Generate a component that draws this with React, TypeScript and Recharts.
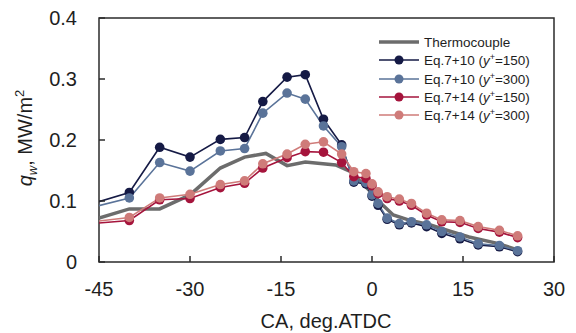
import { LineChart, Line, XAxis, YAxis, Legend, ReferenceArea } from "recharts";

// crank angle (deg ATDC) of the model evaluation points
const caDeg = [-46, -40, -35, -30, -25, -21, -18, -14, -11, -8, -5, -3, -1, 0, 1, 2.5, 4.5, 6.5, 9, 11.5, 14.5, 17.5, 21, 24];

// heat flux q_w (MW/m2) from each wall-function combination
const eq10y150 = [0.096, 0.114, 0.188, 0.172, 0.201, 0.204, 0.263, 0.303, 0.307, 0.234, 0.192, 0.131, 0.128, 0.108, 0.093, 0.07, 0.061, 0.064, 0.058, 0.047, 0.038, 0.028, 0.025, 0.017];
const eq10y300 = [0.09, 0.105, 0.163, 0.149, 0.182, 0.186, 0.244, 0.277, 0.267, 0.223, 0.189, 0.133, 0.13, 0.11, 0.096, 0.072, 0.063, 0.066, 0.061, 0.05, 0.041, 0.03, 0.027, 0.0185];
const eq14y150 = [0.063, 0.068, 0.102, 0.104, 0.122, 0.129, 0.154, 0.171, 0.181, 0.18, 0.163, 0.14, 0.137, 0.125, 0.112, 0.104, 0.1, 0.093, 0.077, 0.066, 0.065, 0.055, 0.049, 0.04];
const eq14y300 = [0.066, 0.073, 0.105, 0.111, 0.127, 0.133, 0.161, 0.177, 0.193, 0.197, 0.177, 0.148, 0.145, 0.128, 0.115, 0.107, 0.103, 0.096, 0.08, 0.069, 0.068, 0.058, 0.052, 0.043];

// measured flux
const thermoCa = [-45, -40, -35, -30, -25, -21, -17.5, -14, -11, -6, -3.5, -0.5, 1.5, 3.5, 6, 9.5, 13, 16, 20.5, 24];
const thermoQ = [0.072, 0.087, 0.087, 0.11, 0.154, 0.172, 0.178, 0.158, 0.164, 0.159, 0.148, 0.118, 0.096, 0.077, 0.069, 0.061, 0.05, 0.041, 0.031, 0.02];

const xTicks = [-45, -30, -15, 0, 15, 30];
const yTicks = [0, 0.1, 0.2, 0.3, 0.4];

const FONT = '"Liberation Sans", Arial, sans-serif';
const AXIS = "#2b2b2b";
const TEXT = "#1e1e1e";

const toPoints = (xs: number[], ys: number[]) => xs.map((x, i) => ({ x, q: ys[i] }));

const series = [
  { key: "e10a", eq: "Eq.7+10", yp: "150", color: "#151a45", values: eq10y150 },
  { key: "e10b", eq: "Eq.7+10", yp: "300", color: "#5a7399", values: eq10y300 },
  { key: "e14a", eq: "Eq.7+14", yp: "150", color: "#a5143c", values: eq14y150 },
  { key: "e14b", eq: "Eq.7+14", yp: "300", color: "#cf7b79", values: eq14y300 },
];

function XTick({ x, y, payload }: any) {
  return (
    <g>
      <line x1={x} y1={y} x2={x} y2={y - 6} stroke={AXIS} strokeWidth={1.5} />
      <text x={x} y={y + 34} textAnchor="middle" fontSize={20} fill={TEXT} fontFamily={FONT}>
        {payload.value}
      </text>
    </g>
  );
}

function YTick({ x, y, payload }: any) {
  return (
    <g>
      <line x1={x} y1={y} x2={x + 6} y2={y} stroke={AXIS} strokeWidth={1.5} />
      <text x={x - 22} y={y + 7} textAnchor="end" fontSize={20} fill={TEXT} fontFamily={FONT}>
        {payload.value === 0 ? "0" : payload.value.toFixed(1)}
      </text>
    </g>
  );
}

function YTitle() {
  return (
    <text x={32} y={138} transform="rotate(-90, 32, 138)" textAnchor="middle" fontSize={20} fill={TEXT} fontFamily={FONT}>
      <tspan fontStyle="italic">q</tspan>
      <tspan fontStyle="italic" fontSize={13} dy={5}>w</tspan>
      <tspan dy={-5}>, MW/m</tspan>
      <tspan fontSize={13} dy={-8}>2</tspan>
    </text>
  );
}

function XTitle() {
  return (
    <text x={326} y={328} textAnchor="middle" fontSize={20} fill={TEXT} fontFamily={FONT}>
      CA, deg.ATDC
    </text>
  );
}

function LegendBox({ payload }: any) {
  return (
    <div style={{ fontFamily: FONT, fontSize: 13.5, color: TEXT }}>
      {(payload || []).map((item: any) => {
        const s = series.find((d) => d.key === item.dataKey);
        return (
          <div key={item.dataKey} style={{ display: "flex", alignItems: "center", height: 18.3, whiteSpace: "nowrap" }}>
            <svg width={42} height={12} style={{ marginRight: 4 }}>
              {s ? (
                <>
                  <line x1={1} y1={6} x2={41} y2={6} stroke={item.color} strokeWidth={1.6} />
                  <circle cx={21} cy={6} r={4.5} fill={item.color} />
                </>
              ) : (
                <line x1={1} y1={6} x2={41} y2={6} stroke={item.color} strokeWidth={3.5} />
              )}
            </svg>
            {s ? (
              <span>
                {s.eq} (<i>y</i>
                <sup style={{ fontSize: 9, verticalAlign: "5px" }}>+</sup>={s.yp})
              </span>
            ) : (
              <span>{item.value}</span>
            )}
          </div>
        );
      })}
    </div>
  );
}

export default function App() {
  return (
    <div style={{ position: "absolute", left: 0, top: 0, width: 576, height: 333, background: "#fff" }}>
      <LineChart width={576} height={333} margin={{ top: 18, right: 22, bottom: 31, left: 39 }}>
        <XAxis
          dataKey="x"
          type="number"
          domain={[-45, 30]}
          ticks={xTicks}
          allowDataOverflow
          axisLine={false}
          tickLine={false}
          tickSize={0}
          tickMargin={0}
          height={40}
          tick={<XTick />}
          label={<XTitle />}
        />
        <YAxis
          type="number"
          domain={[0, 0.4]}
          ticks={yTicks}
          allowDataOverflow
          axisLine={false}
          tickLine={false}
          tickSize={0}
          tickMargin={0}
          width={60}
          tick={<YTick />}
          label={<YTitle />}
        />
        <ReferenceArea x1={-45} x2={30} y1={0} y2={0.4} fill="none" stroke={AXIS} strokeWidth={1.5} />
        <Line
          data={toPoints(thermoCa, thermoQ)}
          dataKey="q"
          name="Thermocouple"
          stroke="#6c6c6c"
          strokeWidth={3.5}
          dot={false}
          isAnimationActive={false}
        />
        {series.map((s) => (
          <Line
            key={s.key}
            data={toPoints(caDeg, s.values)}
            dataKey="q"
            name={s.key}
            stroke={s.color}
            strokeWidth={1.6}
            dot={{ r: 4.8, fill: s.color, stroke: s.color, strokeWidth: 0 }}
            isAnimationActive={false}
          />
        ))}
        <Legend
          layout="vertical"
          align="center"
          verticalAlign="middle"
          wrapperStyle={{ left: 378, top: 33, width: 190 }}
          content={(props: any) => (
            <LegendBox
              payload={(props.payload || []).map((p: any, i: number) => ({
                ...p,
                dataKey: i === 0 ? "thermo" : series[i - 1].key,
              }))}
            />
          )}
        />
      </LineChart>
    </div>
  );
}
